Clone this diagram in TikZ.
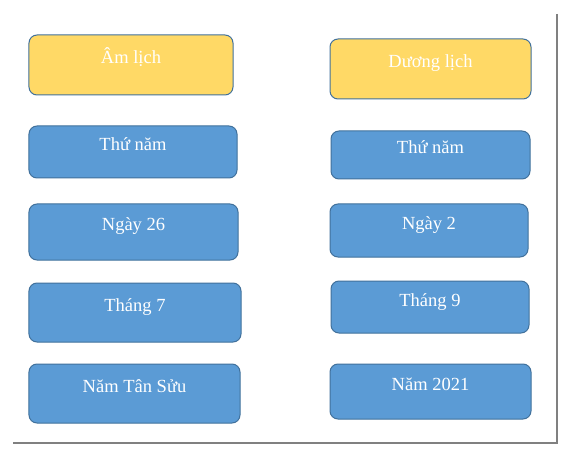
\documentclass[tikz,border=0pt]{standalone}
\usepackage{fontspec}
\setmainfont{Liberation Serif}
\definecolor{headfill}{HTML}{FFD966}
\definecolor{itemfill}{HTML}{5B9BD5}
\definecolor{boxline}{HTML}{41719C}
\tikzset{
  cal/.style={draw=boxline,line width=1bp,rounded corners=8bp,text=white,
    inner sep=0pt,text height=13bp,text depth=15bp,
    font=\fontsize{18.5bp}{22bp}\selectfont},
  head/.style={cal,fill=headfill},
  item/.style={cal,fill=itemfill},
  pageedge/.style={draw=black!50,line width=2bp}
}

\begin{document}
\begin{tikzpicture}[x=1bp,y=-1bp]
    \useasboundingbox[fill=white] (0,0) rectangle (567,454);
    % shadow of the page
    \draw[pageedge] (557,14) -- (557,443) -- (13,443);
    % left column: lunar calendar
    \foreach \number/\cx/\cy/\w/\h/\txt in {
        1/131/65/204/60/Âm lịch,
        2/133/152/208/52/Thứ năm,
        3/133.5/232/209/56/Ngày 26,
        4/135/312.5/212/59/Tháng 7,
        5/134.5/393.5/211/59/Năm Tân Sửu}{
        \ifnum\number=1 \def\kind{head}\else\def\kind{item}\fi
        \node[\kind,minimum width=\w bp,minimum height=\h bp] (L-\number) at (\cx,\cy) {\txt};
      }
    % right column: solar calendar
    \foreach \number/\cx/\cy/\w/\h/\txt in {
        1/430.5/69/201/60/Dương lịch,
        2/430.5/155/199/48/Thứ năm,
        3/429/230.5/198/53/Ngày 2,
        4/430/307/198/52/Tháng 9,
        5/430.5/391.5/201/55/Năm 2021}{
        \ifnum\number=1 \def\kind{head}\else\def\kind{item}\fi
        \node[\kind,minimum width=\w bp,minimum height=\h bp] (R-\number) at (\cx,\cy) {\txt};
      }
  \end{tikzpicture}
\end{document}
